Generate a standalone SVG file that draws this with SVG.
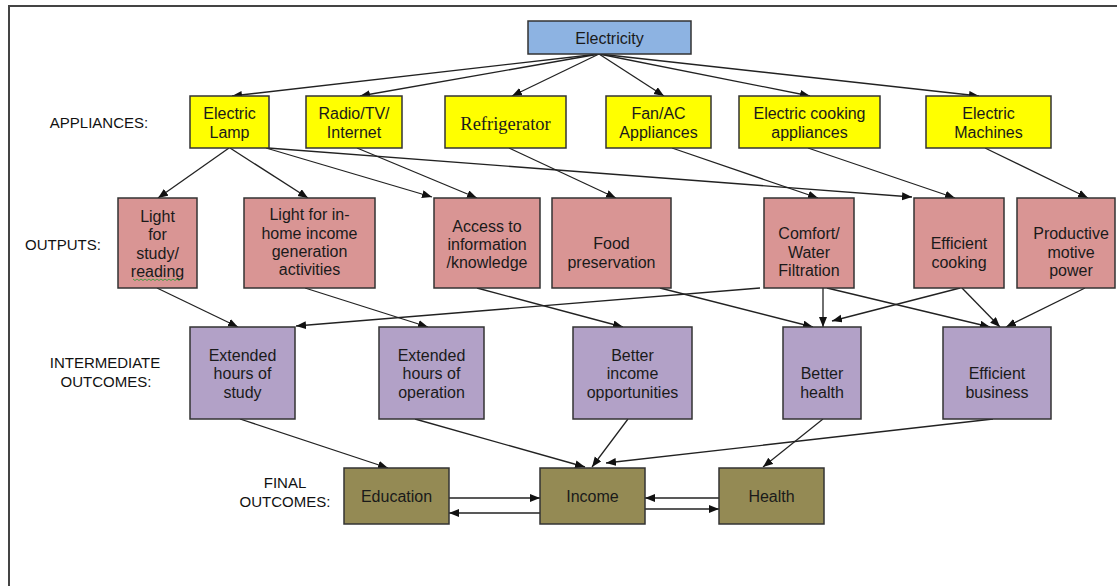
<svg xmlns="http://www.w3.org/2000/svg" width="1117" height="586" viewBox="0 0 1117 586">
<style>
.box{stroke:#333;stroke-width:1.5}
.el{fill:#8DB3E2}
.ap{fill:#FFFF00}
.op{fill:#D99594}
.im{fill:#B2A1C7}
.fo{fill:#948A54}
.t{font-family:"Liberation Sans",Arial,sans-serif;font-size:16px;fill:#1a1a1a;text-anchor:middle}
.ts{font-family:"Liberation Serif","Times New Roman",serif;font-size:18.5px;fill:#1a1a1a;text-anchor:middle}
.lbl{font-family:"Liberation Sans",Arial,sans-serif;font-size:15px;fill:#111;text-anchor:middle}
.c line{stroke:#222;stroke-width:1.3;marker-end:url(#ah)}
</style>
<defs>
<marker id="ah" markerUnits="userSpaceOnUse" markerWidth="11" markerHeight="9" refX="10" refY="4" orient="auto">
<path d="M0,0 L10,4 L0,8 z" fill="#111"/>
</marker>
</defs>
<rect x="0" y="0" width="1117" height="586" fill="#fff"/>
<path d="M9,586 V6 H1117" fill="none" stroke="#444" stroke-width="2"/>

<g id="labels">
<text class="lbl" x="99" y="128">APPLIANCES:</text>
<text class="lbl" x="63" y="250">OUTPUTS:</text>
<text class="lbl" x="105" y="368">INTERMEDIATE</text>
<text class="lbl" x="106" y="387">OUTCOMES:</text>
<text class="lbl" x="285" y="488">FINAL</text>
<text class="lbl" x="285" y="507">OUTCOMES:</text>
</g>

<g class="c" id="connectors">
<line x1="599" y1="54" x2="232" y2="96"/>
<line x1="599" y1="54" x2="360" y2="96"/>
<line x1="599" y1="54" x2="512" y2="96"/>
<line x1="599" y1="54" x2="664" y2="96"/>
<line x1="599" y1="54" x2="810" y2="96"/>
<line x1="599" y1="54" x2="979" y2="96"/>

<line x1="229" y1="148" x2="158" y2="198"/>
<line x1="230" y1="148" x2="308" y2="198"/>
<line x1="266" y1="148" x2="432" y2="197"/>
<line x1="268" y1="148" x2="912" y2="197"/>
<line x1="357" y1="148" x2="477" y2="198"/>
<line x1="509" y1="148" x2="616" y2="198"/>
<line x1="672" y1="148" x2="818" y2="198"/>
<line x1="808" y1="148" x2="955" y2="198"/>
<line x1="985" y1="148" x2="1088" y2="198"/>

<line x1="157" y1="288" x2="238" y2="327"/>
<line x1="305" y1="288" x2="428" y2="327"/>
<line x1="477" y1="288" x2="623" y2="327"/>
<line x1="760" y1="288" x2="296" y2="326"/>
<line x1="660" y1="288" x2="813" y2="327"/>
<line x1="823" y1="288" x2="823" y2="327"/>
<line x1="827" y1="288" x2="990" y2="327"/>
<line x1="960" y1="288" x2="832" y2="321"/>
<line x1="962" y1="288" x2="1000" y2="327"/>
<line x1="1085" y1="288" x2="1006" y2="327"/>

<line x1="240" y1="419" x2="388" y2="468"/>
<line x1="415" y1="419" x2="585" y2="467"/>
<line x1="628" y1="419" x2="592" y2="467"/>
<line x1="993" y1="419" x2="606" y2="463"/>
<line x1="823" y1="419" x2="763" y2="467"/>

<line x1="449" y1="498" x2="540" y2="498"/>
<line x1="540" y1="513" x2="449" y2="513"/>
<line x1="719" y1="498" x2="645" y2="498"/>
<line x1="645" y1="509" x2="719" y2="509"/>
</g>

<g id="electricity"><rect class="box el" x="528" y="21" width="163" height="33"/><text class="t" x="609.5" y="44">Electricity</text></g>

<g id="electric-lamp"><rect class="box ap" x="190" y="96" width="79" height="52"/><text class="t" x="229.5" y="119">Electric</text><text class="t" x="229.5" y="138">Lamp</text></g>
<g id="radio-tv"><rect class="box ap" x="306" y="96" width="96" height="52"/><text class="t" x="354" y="119">Radio/TV/</text><text class="t" x="354" y="138">Internet</text></g>
<g id="refrigerator"><rect class="box ap" x="445" y="96" width="121" height="52"/><text class="ts" x="505.5" y="129.5">Refrigerator</text></g>
<g id="fan-ac"><rect class="box ap" x="606" y="96" width="105" height="52"/><text class="t" x="658.5" y="119">Fan/AC</text><text class="t" x="658.5" y="138">Appliances</text></g>
<g id="electric-cooking"><rect class="box ap" x="739" y="96" width="141" height="52"/><text class="t" x="809.5" y="119">Electric cooking</text><text class="t" x="809.5" y="138">appliances</text></g>
<g id="electric-machines"><rect class="box ap" x="926" y="96" width="125" height="52"/><text class="t" x="988.5" y="119">Electric</text><text class="t" x="988.5" y="138">Machines</text></g>

<g id="light-study"><rect class="box op" x="118" y="198" width="79" height="90"/><text class="t" x="157.5" y="221.5">Light</text><text class="t" x="157.5" y="240">for</text><text class="t" x="157.5" y="258.5">study/</text><text class="t" x="157.5" y="277">reading</text><path d="M133,279 l2,1.5 l2,-1.5 l2,1.5 l2,-1.5 l2,1.5 l2,-1.5 l2,1.5 l2,-1.5 l2,1.5 l2,-1.5 l2,1.5 l2,-1.5 l2,1.5 l2,-1.5 l2,1.5 l2,-1.5 l2,1.5 l2,-1.5 l2,1.5 l2,-1.5 l2,1.5 l2,-1.5 l2,1.5 l2,-1.5" fill="none" stroke="#3a9a3a" stroke-width="0.9"/></g>
<g id="light-income"><rect class="box op" x="244" y="198" width="131" height="90"/><text class="t" x="309.5" y="220">Light for in-</text><text class="t" x="309.5" y="238.5">home income</text><text class="t" x="309.5" y="257">generation</text><text class="t" x="309.5" y="275">activities</text></g>
<g id="access-info"><rect class="box op" x="434" y="198" width="106" height="90"/><text class="t" x="487" y="231.5">Access to</text><text class="t" x="487" y="249.5">information</text><text class="t" x="487" y="267.5">/knowledge</text></g>
<g id="food-preservation"><rect class="box op" x="552" y="198" width="119" height="90"/><text class="t" x="611.5" y="249">Food</text><text class="t" x="611.5" y="268">preservation</text></g>
<g id="comfort-water"><rect class="box op" x="764" y="198" width="90" height="90"/><text class="t" x="809" y="239">Comfort/</text><text class="t" x="809" y="257.5">Water</text><text class="t" x="809" y="276">Filtration</text></g>
<g id="efficient-cooking"><rect class="box op" x="914" y="198" width="90" height="90"/><text class="t" x="959" y="249">Efficient</text><text class="t" x="959" y="267.5">cooking</text></g>
<g id="productive-power"><rect class="box op" x="1017" y="198" width="98" height="90"/><text class="t" x="1071" y="238.5">Productive</text><text class="t" x="1071" y="257.5">motive</text><text class="t" x="1071" y="276">power</text></g>

<g id="ext-study"><rect class="box im" x="190" y="327" width="105" height="92"/><text class="t" x="242.5" y="360.5">Extended</text><text class="t" x="242.5" y="379">hours of</text><text class="t" x="242.5" y="397.5">study</text></g>
<g id="ext-operation"><rect class="box im" x="379" y="327" width="105" height="92"/><text class="t" x="431.5" y="360.5">Extended</text><text class="t" x="431.5" y="379">hours of</text><text class="t" x="431.5" y="397.5">operation</text></g>
<g id="better-income"><rect class="box im" x="573" y="327" width="119" height="92"/><text class="t" x="632.5" y="360.5">Better</text><text class="t" x="632.5" y="379">income</text><text class="t" x="632.5" y="397.5">opportunities</text></g>
<g id="better-health"><rect class="box im" x="783" y="327" width="78" height="92"/><text class="t" x="822" y="379">Better</text><text class="t" x="822" y="397.5">health</text></g>
<g id="efficient-business"><rect class="box im" x="943" y="327" width="108" height="92"/><text class="t" x="997" y="379">Efficient</text><text class="t" x="997" y="397.5">business</text></g>

<g id="education"><rect class="box fo" x="344" y="468" width="105" height="56"/><text class="t" x="396.5" y="501.5">Education</text></g>
<g id="income"><rect class="box fo" x="540" y="468" width="105" height="56"/><text class="t" x="592.5" y="501.5">Income</text></g>
<g id="health"><rect class="box fo" x="719" y="468" width="105" height="56"/><text class="t" x="771.5" y="501.5">Health</text></g>
</svg>
